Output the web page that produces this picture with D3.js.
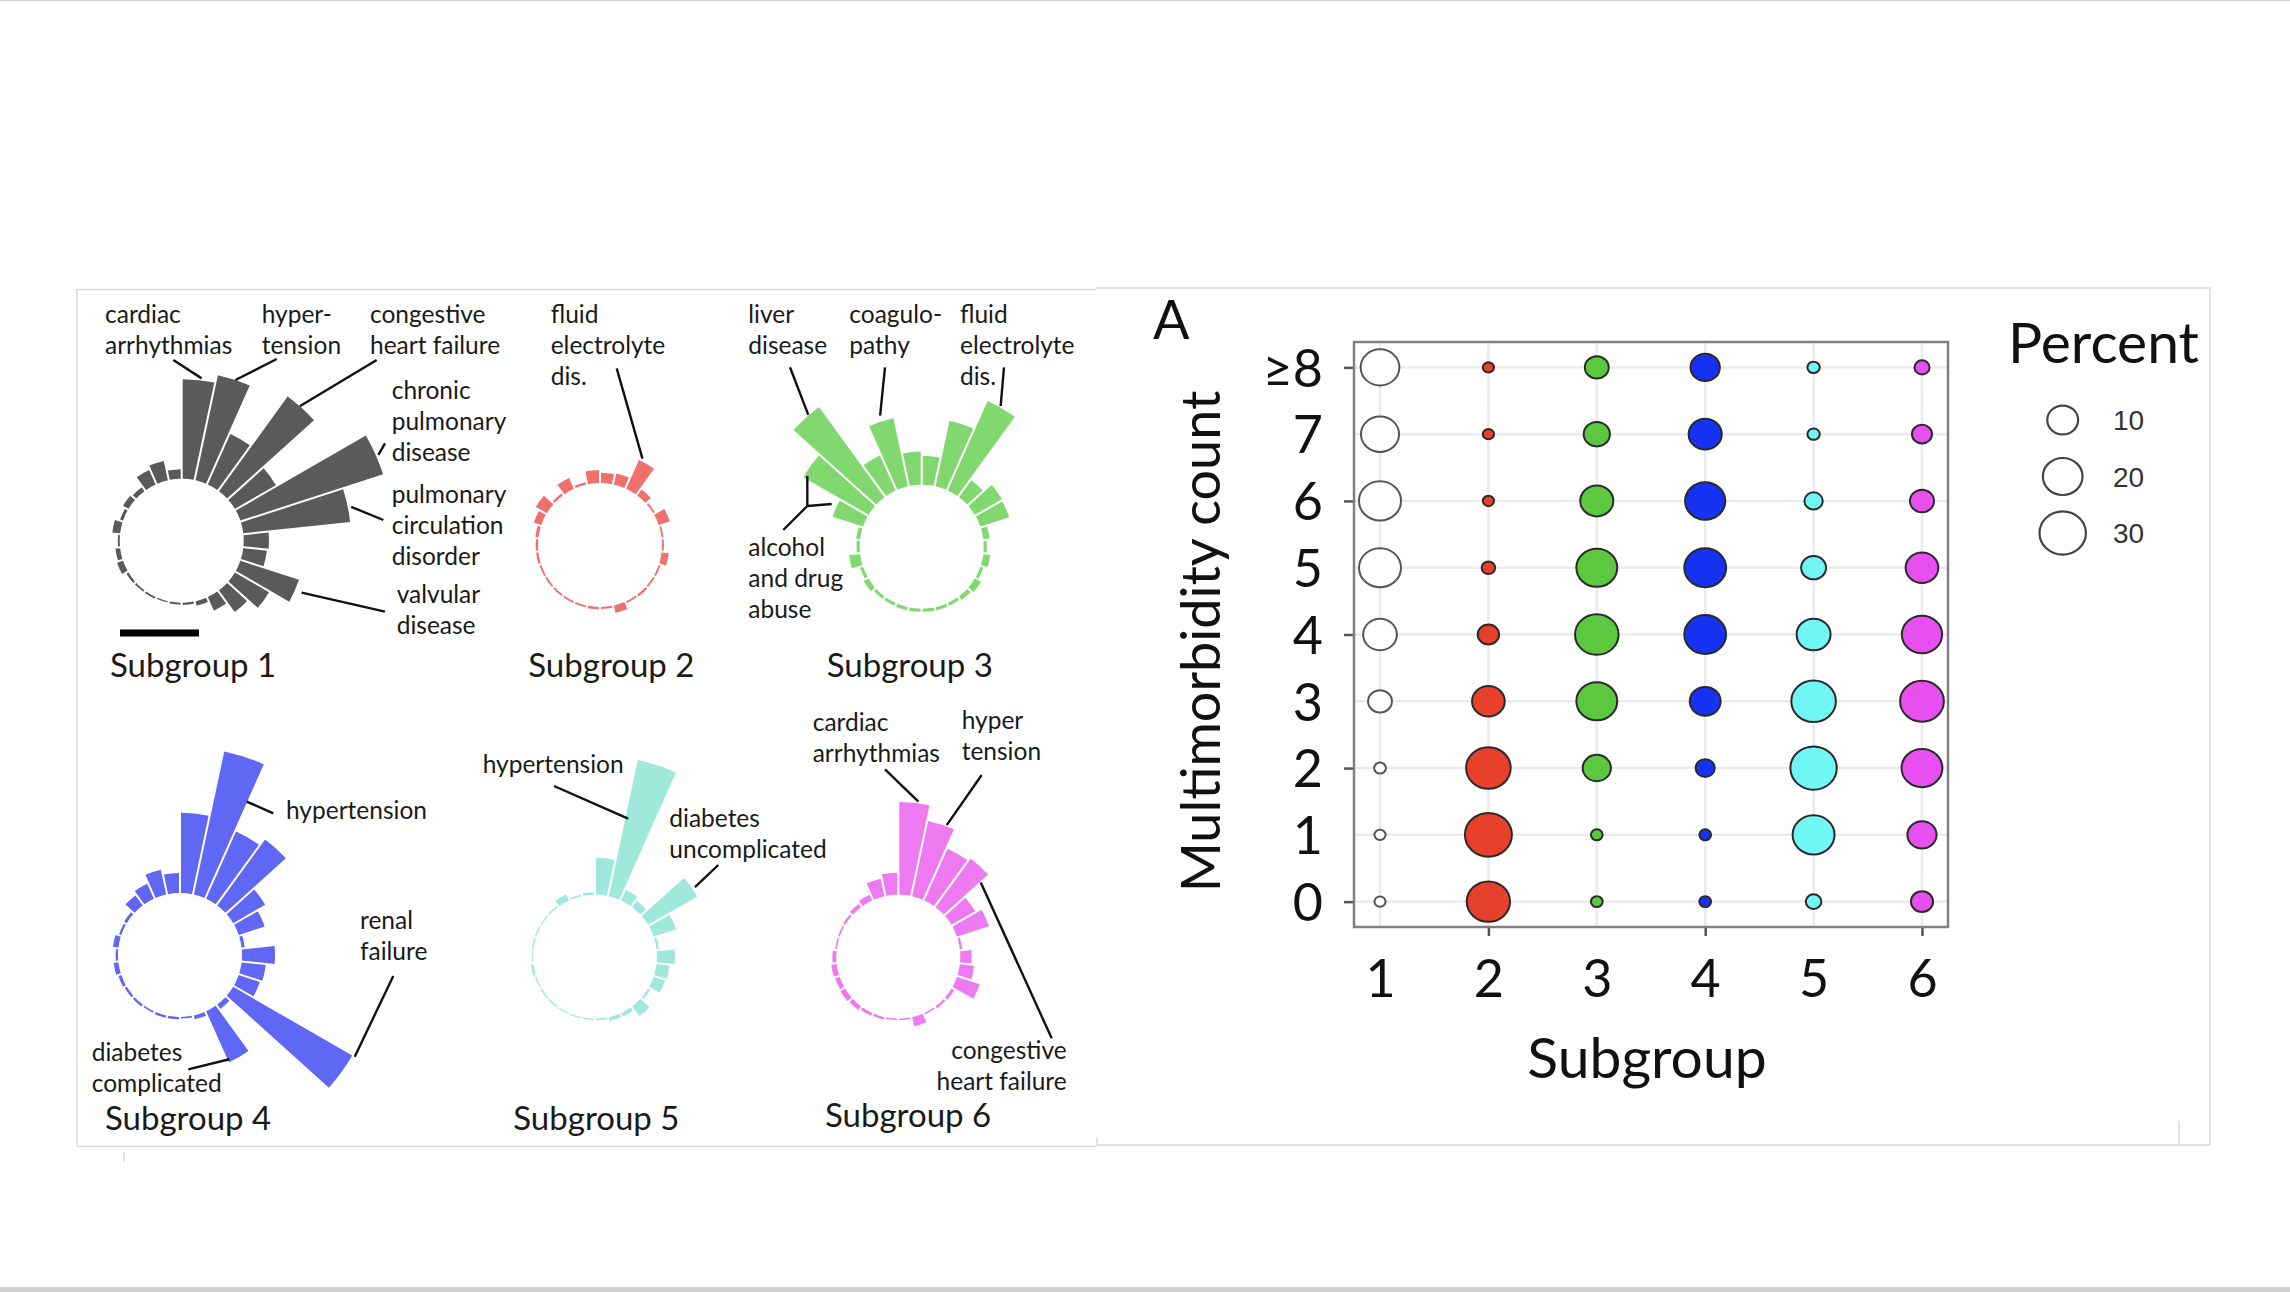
<!DOCTYPE html>
<html><head><meta charset="utf-8">
<script src="https://cdn.jsdelivr.net/npm/d3@7"></script>
<style>html,body{margin:0;padding:0;background:#fff;} svg{display:block;font-family:Lato,'Open Sans',sans-serif;}</style>
</head><body><svg id="c" width="2290" height="1292"></svg>
<script>
// ---------------- DATA ----------------
const comorbidities = [
  "cardiac arrhythmias","hypertension","fluid electrolyte dis.","congestive heart failure","diabetes uncomplicated",
  "chronic pulmonary disease","pulmonary circulation disorder","peripheral vascular disorders","deficiency anemia","valvular disease",
  "renal failure","hypothyroidism","diabetes complicated","obesity","weight loss",
  "other neurological disorders","paralysis","peptic ulcer","AIDS/HIV","lymphoma",
  "metastatic cancer","solid tumor","rheumatoid arthritis","blood loss anemia","alcohol abuse",
  "drug abuse","liver disease","depression","coagulopathy","psychoses"
];
// prevalence (%) of each comorbidity, per subgroup
const subgroup1 = [63,68,35,74,30,95,68,16,15,39,25,17,9.5,3,1.5,1.2,0.8,1.2,1.2,1.5,4,3,1.2,5,2,4,3,10,12.5,6];
const subgroup2 = [6.5,7.2,20,4.6,1.2,7.4,1.2,1.2,4.6,1.2,1.2,1.5,1.2,4.9,1.2,1.5,1.2,1.2,1.2,1.2,1.2,1.5,1.5,2,5,8,1.5,7.4,1.5,8.2];
const subgroup3 = [18.4,42.4,62,13.3,19.8,19.2,4,2,4.4,2,4.4,3,2,2,2,2,2,2,2,3.5,2,7,2,2.5,20.3,47.7,70.5,24.3,44,21];
const subgroup4 = [50.8,92.6,46.6,51.5,23.4,17.3,2,20.9,15.4,14.1,87,3.4,35.4,2.5,1,1.5,1.5,1,1.5,1.5,2,3,1.5,3.5,1.5,2,7.8,10.4,16,12.7];
const subgroup5 = [23.4,88.2,7.2,4.9,35.9,15,1.5,11.4,8.2,7.6,1.5,7.8,2.5,2.5,1,0.8,0.8,0.8,1,1,0.8,1.5,0.6,1,1,0.8,1,4.2,1,1.5];
const subgroup6 = [58.7,48.7,35.9,37.8,17.3,21.3,1.5,7.2,9.1,15.2,2,1.5,1,5.9,1,1,1.5,2,3,3.5,3,3.5,2.5,1,1,1.5,2.5,4,11.4,13.9];
const scaleBarValue = 50;

// multimorbidity count distribution (%) per subgroup
const countLabels = ["0","1","2","3","4","5","6","7","\u22658"];
const subgroupIds = ["1","2","3","4","5","6"];
const pctSub1 = [0.05,0.05,0.1,4.5,12.9,23.2,23.4,17.9,18.7];
const pctSub2 = [25.2,31,27.1,11.8,3.1,0.32,0.05,0.05,0.05];
const pctSub3 = [0.1,0.1,7.7,21.7,25.6,21.7,12.2,6.1,4.5];
const pctSub4 = [0.1,0.1,2,10,23,23,20.8,12.2,8.6];
const pctSub5 = [0.8,23.2,30,27.1,13.1,5.2,1.7,0.15,0.15];
const pctSub6 = [3.5,8.5,21.7,25.9,20.9,11.8,4.65,2.4,0.66];
const legendValues = [10,20,30];
const yTickMarks = ["0","2","4","6","\u22658"];
const xTickMarks = ["2","4","6"];

// ---------------- STYLE / LAYOUT ----------------
const svg = d3.select("#c");
const TXT = "#1a1a1a";
svg.append("rect").attr("width",2290).attr("height",1292).attr("fill","#fff");
// page edges and panel frame
svg.append("line").attr("x1",0).attr("x2",2290).attr("y1",0.5).attr("y2",0.5).attr("stroke","#d4d4d4").attr("stroke-width",1.5);
svg.append("rect").attr("x",0).attr("y",1287).attr("width",2290).attr("height",5).attr("fill","#cfcfcf");
const frame = svg.append("g").attr("stroke","#dadada").attr("stroke-width",1.5).attr("fill","none");
frame.append("path").attr("d","M77,1146 V289.5 H1096 M1096,288 H2210 V1145 H1096 M1096,1146.5 H77");
frame.append("path").attr("d","M124,1152 V1162 M2179,1121 V1145 M1097,1138 V1146");

// ---------------- RADIAL BAR CHARTS ----------------
const R0 = 62;
const barLen = d3.scaleLinear().domain([0,100]).range([0,158]);
const angle = d3.scaleBand().domain(d3.range(comorbidities.length)).range([0,2*Math.PI]);
const arc = d3.arc()
  .innerRadius(R0)
  .outerRadius(d => R0 + barLen(d.v))
  .startAngle(d => angle(d.i))
  .endAngle(d => angle(d.i) + angle.bandwidth())
  .padAngle(0.02).padRadius(100);
function barDeg(i){ return (angle(i) + angle.bandwidth()/2) * 180/Math.PI; }
function polar(c, deg, r){ const a = deg*Math.PI/180; return [c[0] + r*Math.sin(a), c[1] - r*Math.cos(a)]; }

const radial = [
  {data:subgroup1, c:[181.7,540.7], color:"#5a5a5a", title:"Subgroup 1", tx:110, ty:676.7,
   notes:[
    {bar:0, lines:["cardiac","arrhythmias"], x:105, y:322.7, from:[173.3,360], da:1, f:1, g:2},
    {bar:1, lines:["hyper-","tension"], x:261.7, y:322.7, from:[276.7,359], da:0.5, f:1, g:0},
    {bar:3, lines:["congestive","heart failure"], x:370, y:322.7, from:[376.7,360], da:-0.7, f:1, g:0},
    {bar:5, lines:["chronic","pulmonary","disease"], x:391.7, y:399, from:[385,443.3], da:0.4, f:1, g:2.5},
    {bar:6, lines:["pulmonary","circulation","disorder"], x:391.7, y:502.7, from:[383.3,520], da:0.7, f:1, g:3.4},
    {bar:9, lines:["valvular","disease"], x:396.7, y:603.3, from:[385,611.7], da:-0.6, f:1, g:7}
   ]},
  {data:subgroup2, c:[600,545], color:"#ef706c", title:"Subgroup 2", tx:528.3, ty:676.7,
   notes:[
    {bar:2, lines:["fluid","electrolyte","dis."], x:550.7, y:322.7, from:[616.7,368.3], da:-3.8, f:1, g:2.6}
   ]},
  {data:subgroup3, c:[921.7,546.7], color:"#80d86f", title:"Subgroup 3", tx:826.7, ty:676.7,
   notes:[
    {bar:26, lines:["liver","disease"], x:748.3, y:322.7, from:[790,367.3], da:1.3, f:1, g:0.5},
    {bar:28, lines:["coagulo-","pathy"], x:849.3, y:322.7, from:[885,367.3], da:0.4, f:1, g:6},
    {bar:2, lines:["fluid","electrolyte","dis."], x:960, y:322.7, from:[1004,367.3], da:-0.7, f:1, g:1.4}
   ],
   bracket:{lines:["alcohol","and drug","abuse"], x:748.3, y:556, j:[807.3,506], up:30, right:[831.7,504], down:[783.3,530]}},
  {data:subgroup4, c:[180,955], color:"#6167f5", title:"Subgroup 4", tx:105, ty:1130,
   notes:[
    {bar:1, lines:["hypertension"], x:286, y:819.3, from:[273.3,813.3], da:5.5, f:0.72, g:0},
    {bar:10, lines:["renal","failure"], x:360, y:929.3, from:[393.3,976], da:-5.8, f:1, g:2.7},
    {bar:12, lines:["diabetes","complicated"], x:91.7, y:1060.7, from:[188.3,1069.3], da:4.7, f:1, g:-2.6}
   ]},
  {data:subgroup5, c:[595,956.7], color:"#9fe8dc", title:"Subgroup 5", tx:513.3, ty:1130,
   notes:[
    {bar:1, lines:["hypertension"], x:482.7, y:773.3, from:[554,786], da:-4.5, f:0.574, g:0},
    {bar:4, lines:["diabetes","uncomplicated"], x:669.3, y:827.3, from:[718.3,865], da:1.2, f:1, g:3}
   ]},
  {data:subgroup6, c:[898.3,956.7], color:"#ee7af2", title:"Subgroup 6", tx:825, ty:1127,
   notes:[
    {bar:0, lines:["cardiac","arrhythmias"], x:812.7, y:731, from:[885,769.3], da:1.4, f:1, g:1.6},
    {bar:1, lines:["hyper","tension"], x:961.7, y:729.3, from:[981.7,775], da:2.2, f:1, g:1.3},
    {bar:3, lines:["congestive","heart failure"], x:1066.7, y:1059.3, anchor:"end", from:[1051.7,1038.3], da:6, f:0.82, g:0}
   ]}
];

function multiline(g, lines, x, y, anchor){
  const t = g.append("text").attr("x",x).attr("y",y).attr("font-size",24.5).attr("fill",TXT)
    .attr("text-anchor",anchor||"start");
  lines.forEach((s,k)=> t.append("tspan").attr("x",x).attr("y",y + k*31).text(s));
}

radial.forEach(p => {
  const g = svg.append("g");
  const bars = p.data.map((v,i)=>({v, i, name:comorbidities[i]}));
  g.append("g").attr("transform",`translate(${p.c[0]},${p.c[1]})`)
    .selectAll("path").data(bars).join("path")
    .attr("d",arc).attr("fill",p.color);
  p.notes.forEach(n => {
    const v = p.data[n.bar];
    const end = polar(p.c, barDeg(n.bar) + n.da, R0 + barLen(v)*n.f + n.g);
    g.append("line").attr("x1",n.from[0]).attr("y1",n.from[1]).attr("x2",end[0]).attr("y2",end[1])
      .attr("stroke","#111").attr("stroke-width",2.4);
    multiline(g, n.lines, n.x, n.y, n.anchor);
  });
  if (p.bracket){
    const b = p.bracket;
    g.append("path").attr("fill","none").attr("stroke","#111").attr("stroke-width",2.4)
      .attr("d",`M${b.j[0]},${b.j[1]-b.up} V${b.j[1]} L${b.down[0]},${b.down[1]} M${b.j[0]},${b.j[1]} L${b.right[0]},${b.right[1]}`);
    multiline(g, b.lines, b.x, b.y);
  }
  g.append("text").attr("x",p.tx).attr("y",p.ty).attr("font-size",33).attr("fill",TXT).text(p.title);
});
// scale bar under subgroup 1
svg.append("rect").attr("x",120).attr("y",629.5).attr("width",barLen(scaleBarValue)).attr("height",7).attr("fill","#000");

// ---------------- BUBBLE CHART ----------------
const box = {l:1354, r:1948, t:342, b:927};
const x = d3.scalePoint().domain(subgroupIds).range([box.l, box.r]).padding(0.24);
const y = d3.scalePoint().domain(countLabels).range([box.b, box.t]).padding(0.38);
const rScale = d3.scaleSqrt().domain([0,30]).range([4.66, 22.41]);
const stretch = 1.035;
const fills = ["#ffffff","#e8412b","#5cc83f","#1632f2","#70f6f4","#e84ff0"];
const pcts = [pctSub1,pctSub2,pctSub3,pctSub4,pctSub5,pctSub6];

const bc = svg.append("g");
// grid
bc.append("g").selectAll("line").data(countLabels).join("line")
  .attr("x1",box.l).attr("x2",box.r).attr("y1",d=>y(d)).attr("y2",d=>y(d))
  .attr("stroke","#ebebeb").attr("stroke-width",2.5);
bc.append("g").selectAll("line").data(subgroupIds).join("line")
  .attr("y1",box.t).attr("y2",box.b).attr("x1",d=>x(d)).attr("x2",d=>x(d))
  .attr("stroke","#ebebeb").attr("stroke-width",2.5);

// axes
const fontTick = 52;
const yLab = bc.append("g").attr("transform",`translate(${box.l},0)`)
  .call(d3.axisLeft(y).tickSize(0).tickPadding(31));
yLab.select(".domain").remove();
yLab.selectAll("text").attr("font-size",fontTick).attr("font-family","Lato,'Open Sans',sans-serif").attr("fill","#111").attr("dy","0.36em");
const yTk = bc.append("g").attr("transform",`translate(${box.l},0)`)
  .call(d3.axisLeft(y).tickValues(yTickMarks).tickSize(10).tickFormat(""));
yTk.select(".domain").remove();
yTk.selectAll("line").attr("stroke","#555").attr("stroke-width",2.5);

const xLab = bc.append("g").attr("transform",`translate(0,${box.b})`)
  .call(d3.axisBottom(x).tickSize(0).tickPadding(33));
xLab.select(".domain").remove();
xLab.selectAll("text").attr("font-size",fontTick).attr("font-family","Lato,'Open Sans',sans-serif").attr("fill","#111");
const xTk = bc.append("g").attr("transform",`translate(0,${box.b})`)
  .call(d3.axisBottom(x).tickValues(xTickMarks).tickSize(9).tickFormat(""));
xTk.select(".domain").remove();
xTk.selectAll("line").attr("stroke","#555").attr("stroke-width",2.5);

// box
bc.append("rect").attr("x",box.l).attr("y",box.t).attr("width",box.r-box.l).attr("height",box.b-box.t)
  .attr("fill","none").attr("stroke","#808080").attr("stroke-width",2.5);

// bubbles
const pts = [];
subgroupIds.forEach((s,si)=> countLabels.forEach((c,ci)=> pts.push({s, c, v:pcts[si][ci], fill:fills[si]})));
bc.append("g").selectAll("ellipse").data(pts).join("ellipse")
  .attr("cx",d=>x(d.s)).attr("cy",d=>y(d.c))
  .attr("rx",d=>rScale(d.v)*stretch).attr("ry",d=>rScale(d.v)/stretch)
  .attr("fill",d=>d.fill).attr("stroke",d=>d.s==="1"?"#555":"#2a2a2a").attr("stroke-width",2);

// titles
bc.append("text").attr("x",(box.l+box.r)/2 - 4).attr("y",1078).attr("text-anchor","middle")
  .attr("font-size",57).attr("fill","#111").text("Subgroup");
bc.append("text").attr("transform",`translate(1220,${(box.t+box.b)/2 + 7}) rotate(-90)`).attr("text-anchor","middle")
  .attr("font-size",54).attr("fill","#111").text("Multimorbidity count");
bc.append("text").attr("x",1153).attr("y",339).attr("font-size",54).attr("fill","#111").text("A");

// legend
const lg = svg.append("g");
lg.append("text").attr("x",2008).attr("y",363).attr("font-size",57).attr("fill","#111").text("Percent");
const legY = d3.scalePoint().domain(legendValues).range([420, 533]);
lg.selectAll("ellipse").data(legendValues).join("ellipse")
  .attr("cx",2062.7).attr("cy",d=>legY(d))
  .attr("rx",d=>rScale(d)*stretch).attr("ry",d=>rScale(d)/stretch)
  .attr("fill","none").attr("stroke","#444").attr("stroke-width",2.2);
lg.selectAll("text.lv").data(legendValues).join("text").attr("class","lv")
  .attr("x",2113).attr("y",d=>legY(d)).attr("dy","0.36em")
  .attr("font-family","'Liberation Sans',Arial,sans-serif").attr("font-size",28).attr("fill","#333").text(d=>d);
</script>
</body></html>
